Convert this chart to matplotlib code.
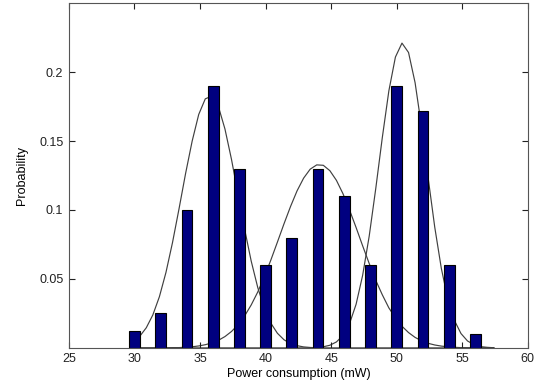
import matplotlib
matplotlib.use('Agg')
import matplotlib.pyplot as plt

# histogram bars (bin centres and probabilities)
bins = [30, 32, 34, 36, 38, 40, 42, 44, 46, 48, 50, 52, 54, 56]
probs = [0.012, 0.025, 0.100, 0.190, 0.130, 0.060, 0.080, 0.130, 0.110, 0.060, 0.190, 0.172, 0.060, 0.010]

curve_x = [30.4, 30.9, 31.4, 31.9, 32.4, 32.9, 33.4, 33.9, 34.4, 34.9, 35.4, 35.9, 36.4, 36.9,
           37.4, 37.9, 38.4, 38.9, 39.4, 39.9, 40.4, 40.9, 41.4, 41.9, 42.4, 42.9, 43.4, 43.9,
           44.4, 44.9, 45.4, 45.9, 46.4, 46.9, 47.4, 47.9, 48.4, 48.9, 49.4, 49.9, 50.4, 50.9,
           51.4, 51.9, 52.4, 52.9, 53.4, 53.9, 54.4, 54.9, 55.4, 55.9, 56.4, 56.9, 57.4]
curve_low = [0.0084, 0.0146, 0.0239, 0.0371, 0.0547, 0.0764, 0.101, 0.1266, 0.150, 0.1693,
             0.1806, 0.1826, 0.175, 0.1587, 0.1366, 0.1113, 0.086, 0.063, 0.0438, 0.0288,
             0.0179, 0.0106, 0.0059, 0.0031, 0.0016, 0.0007, 0.0003, 0.0001] + [0.0] * 27
curve_mid = [0.0] * 5 + [0.0002, 0.0002, 0.0005, 0.0008, 0.0014, 0.0023, 0.0036, 0.0055, 0.0082,
             0.0119, 0.0168, 0.0232, 0.0311, 0.0405, 0.0515, 0.0637, 0.0767, 0.0899, 0.1025,
             0.1139, 0.1231, 0.1296, 0.1327, 0.1324, 0.1285, 0.1215, 0.1118, 0.100, 0.0873,
             0.074, 0.0612, 0.049, 0.0385, 0.029, 0.0218, 0.0157, 0.0111, 0.0076, 0.0051,
             0.0033, 0.0021, 0.0013, 0.0008, 0.0004, 0.0002, 0.0001] + [0.0] * 4
curve_high = [0.0] * 27 + [0.0003, 0.0008, 0.0019, 0.0043, 0.0090, 0.0176, 0.0316, 0.0526,
              0.081, 0.1155, 0.1525, 0.1864, 0.2109, 0.221, 0.2142, 0.1923, 0.1598, 0.123,
              0.0875, 0.0577, 0.0352, 0.0199, 0.0104, 0.0050, 0.0023, 0.0009, 0.0004, 0.0001]

plt.rcParams['font.family'] = ['Liberation Sans', 'DejaVu Sans']

fig = plt.figure(figsize=(5.47, 3.90), dpi=100)
ax = fig.add_axes([0.126, 0.108, 0.839, 0.884])

for c in (curve_low, curve_mid, curve_high):
    ax.plot(curve_x, c, color='#404040', linewidth=0.85, zorder=1)

ax.bar(bins, probs, width=0.82, color='#000080', edgecolor='black', linewidth=0.8, zorder=2)

ax.set_xlim(25, 60)
ax.set_ylim(0, 0.25)
ax.set_xticks([25, 30, 35, 40, 45, 50, 55, 60])
ax.set_yticks([0.05, 0.1, 0.15, 0.2])
ax.set_yticklabels(['0.05', '0.1', '0.15', '0.2'])

ax.tick_params(direction='in', top=True, right=True, length=4, width=0.8,
               labelsize=9, colors='#222222', pad=4)
for s in ax.spines.values():
    s.set_color('#555555')
    s.set_linewidth(0.8)

ax.set_xlabel('Power consumption (mW)', fontsize=9, labelpad=2)
ax.set_ylabel('Probability', fontsize=9, labelpad=8)

fig.savefig('out.png', dpi=100)
